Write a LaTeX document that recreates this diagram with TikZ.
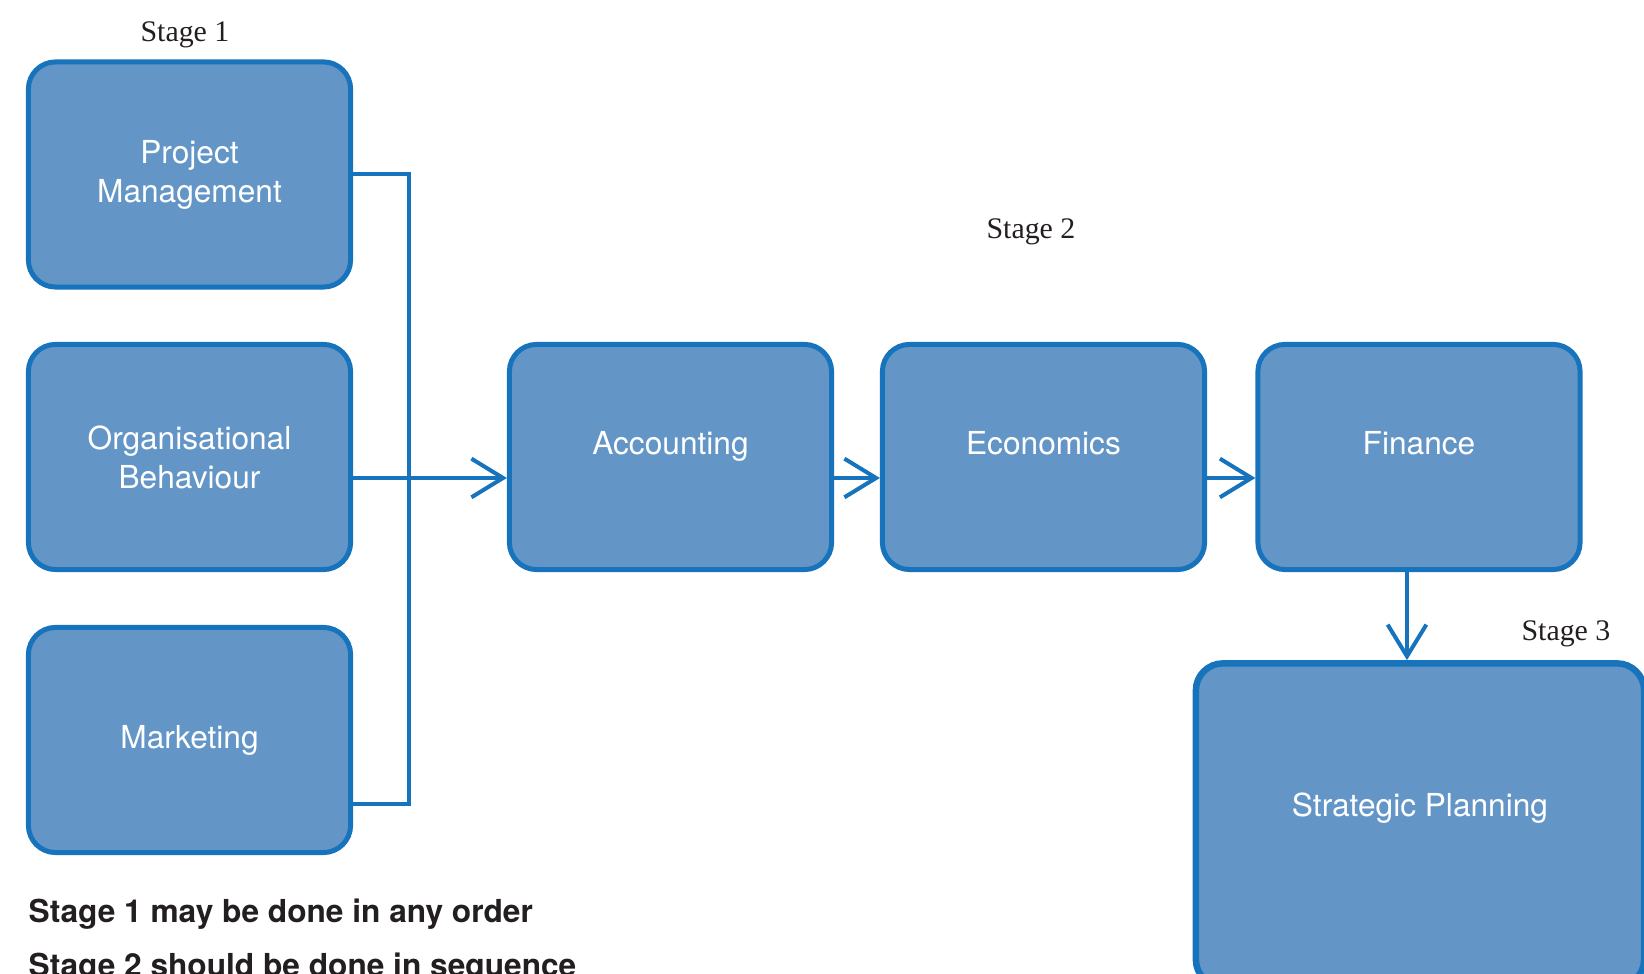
\documentclass[tikz,border=0pt]{standalone}
\usepackage{fontspec}
\usetikzlibrary{arrows.meta, calc, positioning}
\newfontfamily\boxfont{TeX Gyre Heros}
\newfontfamily\stagefont{Liberation Serif}
\definecolor{bf}{RGB}{99, 150, 199}
\definecolor{bl}{RGB}{22, 115, 188}
\definecolor{tx}{HTML}{231F20}

\tikzset{
    unit/.style={shape=rectangle, draw=bl, fill=bf, rounded corners=7.7pt, line width=1.42pt,
        minimum width=3.22cm, minimum height=2.25cm, align=center, text=white,
        font=\boxfont\fontsize{9}{11.1}\selectfont},
    stagelbl/.style={anchor=base, inner sep=0pt, text=tx, font=\stagefont\fontsize{8.5}{10}\selectfont},
    note/.style={anchor=base west, inner sep=0pt, text=tx, font=\boxfont\bfseries\fontsize{9}{11}\selectfont},
    link/.style={draw=bl, line width=1.14pt},
    tip/.style={-{Straight Barb[length=9pt, width=11pt]}}
}

\begin{document}
\begin{tikzpicture}[x=0.01cm, y=-0.01cm]
			\useasboundingbox (0,0) rectangle (1644,974);
			
			% stage 1
			\foreach \n/\y/\t in {PM/174.5/Project\\Management, OB/457/Organisational\\Behaviour, MK/740/Marketing}{
				\node[unit] (\n) at (189.5,\y) {\t};
			};
			
			% stage 2
			\foreach \n/\x/\t in {AC/670.5/Accounting, EC/1043.5/Economics, FI/1419/Finance}{
				\node[unit, text height=7pt, text depth=8.2pt] (\n) at (\x,457) {\t};
			};
			
			% stage 3
			\node[unit, line width=1.85pt, minimum width=4.48cm, minimum height=3.23cm,
				text height=7pt, text depth=12.1pt] (SP) at (1420,825) {Strategic Planning};
			
			\node[stagelbl] (S1) at (185,42) {Stage 1};
			\node[stagelbl] (S2) at (1031,239) {Stage 2};
			\node[stagelbl] (S3) at (1566,641) {Stage 3};
			
			\coordinate (O1) at ($(OB.east) + (0,21)$);
			\coordinate (M1) at ($(MK.east) + (0,64)$);
			\coordinate (F1) at ($(FI.south) + (-12,0)$);
			
			\draw[link] (PM.east) -| ($(M1) + (56,0)$) -- (M1);
			\draw[link, tip] (O1) -- (O1 -| AC.west);
			\draw[link, tip] (O1 -| AC.east) -- (O1 -| EC.west);
			\draw[link, tip] (O1 -| EC.east) -- (O1 -| FI.west);
			\draw[link, tip] (F1) -- (F1 |- SP.north);
			
			\node[note] (N1) at (28,923) {Stage 1 may be done in any order};
			\node[note] (N2) at (28,977) {Stage 2 should be done in sequence};
			
\end{tikzpicture}
\end{document}
